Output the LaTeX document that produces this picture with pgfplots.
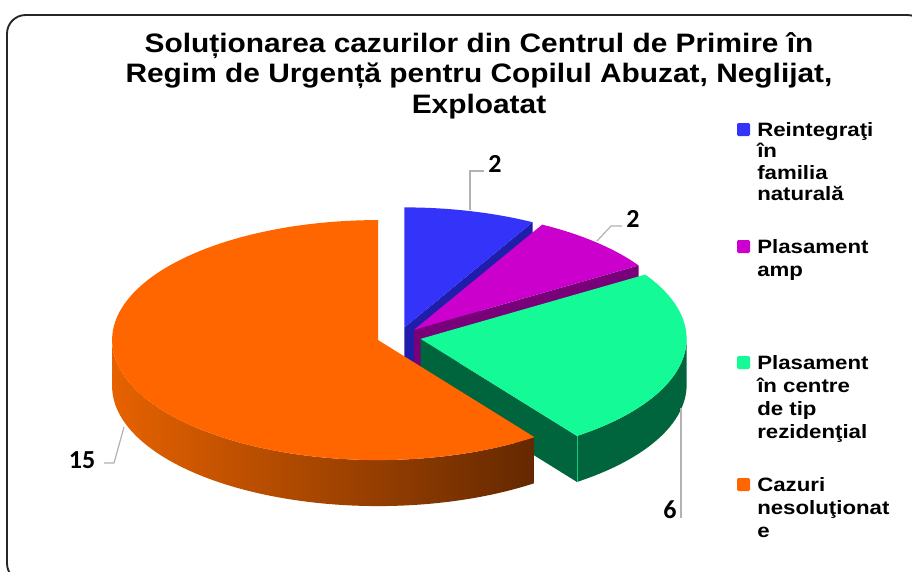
\documentclass[border=0pt]{standalone}
\usepackage{fontspec}
\setmainfont{Liberation Sans}
\newfontfamily\titlefont[FakeStretch=1.12]{Liberation Sans}
\newfontfamily\legfont[FakeStretch=1.15]{Liberation Sans}
\newfontfamily\labfont{Carlito}
\usepackage{pgfplots}
\usepackage{pgfplotstable}
\pgfplotsset{compat=1.18}

\definecolor{bluetop}{RGB}{51,51,250}
\definecolor{blueside}{RGB}{30,30,170}
\definecolor{purtop}{RGB}{204,0,204}
\definecolor{purside}{RGB}{120,0,120}
\definecolor{grntop}{RGB}{20,250,150}
\definecolor{grnside}{RGB}{0,100,60}
\definecolor{ortop}{RGB}{255,102,0}
\definecolor{orsideA}{RGB}{230,98,0}
\definecolor{orsideB}{RGB}{100,40,0}

\pgfplotstableread{
value
2
2
6
15
}\piedata

\newcommand\leg[2]{\node[anchor=base west, inner sep=0pt, font=\legfont\bfseries\fontsize{14.5}{16}\selectfont] at (axis cs:757,#1) {#2};}

\begin{document}
\begin{tikzpicture}
\pgfplotstablegetelem{0}{value}\of\piedata \let\va\pgfplotsretval
\pgfplotstablegetelem{1}{value}\of\piedata \let\vb\pgfplotsretval
\pgfplotstablegetelem{2}{value}\of\piedata \let\vc\pgfplotsretval
\pgfplotstablegetelem{3}{value}\of\piedata \let\vd\pgfplotsretval
\pgfmathsetmacro\tot{\va+\vb+\vc+\vd}
\pgfmathsetmacro\aA{90}
\pgfmathsetmacro\aB{\aA-360*\va/\tot}
\pgfmathsetmacro\aC{\aB-360*\vb/\tot}
\pgfmathsetmacro\aD{\aC-360*\vc/\tot}
\pgfmathsetmacro\aE{\aD-360*\vd/\tot}
\pgfmathsetmacro\aDp{\aD+360}
\def\cx{399}\def\cy{337}\def\rx{266}\def\ry{120}\def\ex{22}\def\dep{46}
\newcommand\slicecenter[3]{%
  \pgfmathsetmacro\tmpb{(#2+#3)/2}%
  \pgfmathsetmacro\tmpx{\cx+\ex*cos(\tmpb)}%
  \pgfmathsetmacro\tmpy{\cy-\ex*\ry/\rx*sin(\tmpb)}%
  \expandafter\let\csname ox#1\endcsname\tmpx
  \expandafter\let\csname oy#1\endcsname\tmpy}
\slicecenter{A}{\aA}{\aB}
\slicecenter{B}{\aB}{\aC}
\slicecenter{C}{\aC}{\aD}
\slicecenter{D}{\aD}{\aE}
\newcommand\facept[3]{%
  \pgfmathsetmacro\tmpx{\csname ox#2\endcsname+\rx*cos(#3)}%
  \pgfmathsetmacro\tmpy{\csname oy#2\endcsname-\ry*sin(#3)}%
  \pgfmathsetmacro\tmpyd{\tmpy+\dep}%
  \pgfmathsetmacro\tmpod{\csname oy#2\endcsname+\dep}%
  \expandafter\let\csname px#1\endcsname\tmpx
  \expandafter\let\csname py#1\endcsname\tmpy
  \expandafter\let\csname pyd#1\endcsname\tmpyd
  \expandafter\let\csname ood#1\endcsname\tmpod}
\facept{A}{A}{\aB}
\facept{B}{B}{\aC}
\facept{C}{C}{\aD}
\newcommand\sideplot[5]{%
  \addplot[#1, draw=none, domain=0:2.2, samples=221, variable=\s]
  ({#2+\rx*cos(((\s<1) ? (#4+\s*(#5-#4)) : ((\s<1.1) ? (#5) : ((\s<2.1) ? (#5-(\s-1.1)*(#5-#4)) : (#4)))))},
   {#3-\ry*sin(((\s<1) ? (#4+\s*(#5-#4)) : ((\s<1.1) ? (#5) : ((\s<2.1) ? (#5-(\s-1.1)*(#5-#4)) : (#4)))))
     +((\s<1) ? 0 : ((\s<1.1) ? ((\s-1)*10*\dep) : ((\s<2.1) ? \dep : ((2.2-\s)*10*\dep))))});}
\begin{axis}[name=ax, scale only axis, width=684pt, height=428.25pt,
  xmin=0, xmax=912, ymin=0, ymax=571, y dir=reverse, hide axis, clip=false]
\fill[white] (axis cs:0,0) rectangle (axis cs:912,571);
\draw[black!85, line width=1.4pt, rounded corners=14pt] (axis cs:7,15) rectangle (axis cs:926,582);
% ---- blue slice
\edef\tmp{\noexpand\addplot[fill=blueside, draw=none] coordinates {(\oxA,\oyA) (\pxA,\pyA) (\pxA,\pydA) (\oxA,\oodA)} -- cycle;}\tmp
\addplot[fill=bluetop, draw=none, domain=\aB:\aA, samples=40, variable=\t]
  ({\oxA+\rx*cos(\t)},{\oyA-\ry*sin(\t)}) -- (axis cs:\oxA,\oyA) -- cycle;
% ---- purple slice
\edef\tmp{\noexpand\addplot[fill=purside, draw=none] coordinates {(\oxB,\oyB) (\pxB,\pyB) (\pxB,\pydB) (\oxB,\oodB)} -- cycle;}\tmp
\addplot[fill=purtop, draw=none, domain=\aC:\aB, samples=40, variable=\t]
  ({\oxB+\rx*cos(\t)},{\oyB-\ry*sin(\t)}) -- (axis cs:\oxB,\oyB) -- cycle;
% ---- green slice
\edef\tmp{\noexpand\addplot[fill=grnside, draw=none] coordinates {(\oxC,\oyC) (\pxC,\pyC) (\pxC,\pydC) (\oxC,\oodC)} -- cycle;}\tmp
\sideplot{fill=grnside}{\oxC}{\oyC}{\aD}{0}
\edef\tmp{\noexpand\addplot[draw=grntop!70!grnside, line width=0.6pt] coordinates {(\pxC,\pyC) (\pxC,\pydC)};}\tmp
\addplot[fill=grntop, draw=none, domain=\aD:\aC, samples=60, variable=\t]
  ({\oxC+\rx*cos(\t)},{\oyC-\ry*sin(\t)}) -- (axis cs:\oxC,\oyC) -- cycle;
% ---- orange slice
\sideplot{left color=orsideA, right color=orsideB}{\oxD}{\oyD}{180}{\aDp}
\addplot[fill=ortop, draw=none, domain=\aE:\aD, samples=120, variable=\t]
  ({\oxD+\rx*cos(\t)},{\oyD-\ry*sin(\t)}) -- (axis cs:\oxD,\oyD) -- cycle;
% ---- leader lines and data labels
\draw[gray!60, line width=0.9pt] (axis cs:470,210) -- (axis cs:470,171) -- (axis cs:484,171);
\draw[gray!60, line width=0.9pt] (axis cs:597,241) -- (axis cs:611,226) -- (axis cs:622,226);
\draw[gray!60, line width=0.9pt] (axis cs:681,408) -- (axis cs:681,518);
\draw[gray!60, line width=0.9pt] (axis cs:124,427) -- (axis cs:114,463) -- (axis cs:104,463);
\node[font=\labfont\bfseries\fontsize{19.5}{20}\selectfont] at (axis cs:495,164) {2};
\node[font=\labfont\bfseries\fontsize{19.5}{20}\selectfont] at (axis cs:633,219) {2};
\node[font=\labfont\bfseries\fontsize{19.5}{20}\selectfont] at (axis cs:670,510) {6};
\node[font=\labfont\bfseries\fontsize{19.5}{20}\selectfont] at (axis cs:82,460) {15};
% ---- title
\node[anchor=base, font=\titlefont\bfseries\fontsize{20}{23}\selectfont] at (axis cs:479,52) {Soluționarea cazurilor din Centrul de Primire în};
\node[anchor=base, font=\titlefont\bfseries\fontsize{20}{23}\selectfont] at (axis cs:479,82) {Regim de Urgență pentru Copilul Abuzat, Neglijat,};
\node[anchor=base, font=\titlefont\bfseries\fontsize{20}{23}\selectfont] at (axis cs:479,113) {Exploatat};
% ---- legend
\fill[bluetop, rounded corners=1pt] (axis cs:737,123) rectangle (axis cs:750,136);
\fill[purtop, rounded corners=1pt] (axis cs:737,240) rectangle (axis cs:750,253);
\fill[grntop, rounded corners=1pt] (axis cs:737,356) rectangle (axis cs:750,369);
\fill[ortop, rounded corners=1pt] (axis cs:737,478) rectangle (axis cs:750,491);
\leg{136}{Reintegraţi}
\leg{157}{în}
\leg{179}{familia}
\leg{200}{naturală}
\leg{253}{Plasament}
\leg{276}{amp}
\leg{369}{Plasament}
\leg{392}{în centre}
\leg{415}{de tip}
\leg{438}{rezidenţial}
\leg{491}{Cazuri}
\leg{514}{nesoluţionat}
\leg{537}{e}
\end{axis}
\pgfresetboundingbox
\useasboundingbox (ax.south west) rectangle (ax.north east);
\end{tikzpicture}
\end{document}
